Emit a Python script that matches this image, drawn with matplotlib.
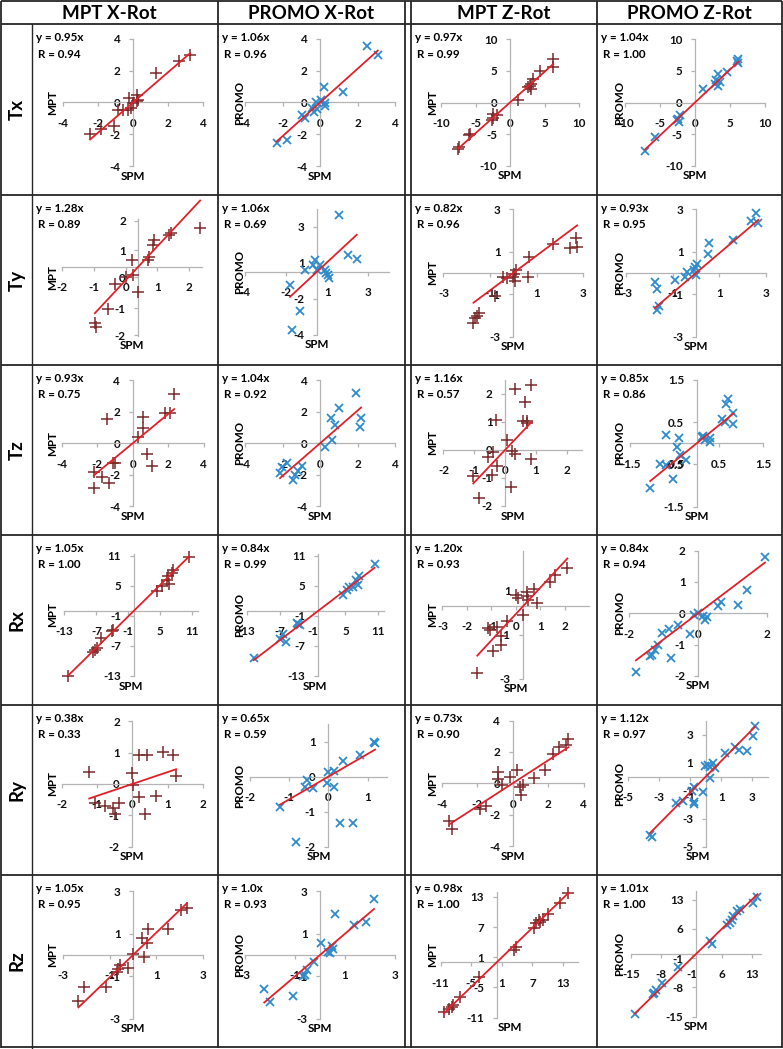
import math
import matplotlib
matplotlib.use("Agg")
import matplotlib.pyplot as plt

plt.rcParams['font.family'] = ['Lato', 'DejaVu Sans']
plt.rcParams['font.weight'] = 'bold'

W, H, DPI = 783, 1049, 100

COL_TITLES = ["MPT X-Rot", "PROMO X-Rot", "MPT Z-Rot", "PROMO Z-Rot"]
ROW_TITLES = ["Tx", "Ty", "Tz", "Rx", "Ry", "Rz"]
Y_TITLES = ["MPT", "PROMO", "MPT", "PROMO"]
X_TITLE = "SPM"

# ---------------- data (SPM on x, method on y) ----------------
TX_MPTX_X = [3.25, 2.65, 1.3, 0.25, 0.3, -0.25, 0.2, -0.1, -0.3, -0.6, -0.85, -1.1, -1.85, -2.45, 0.0]
TX_MPTX_Y = [3.0, 2.6, 1.85, 0.45, 0.15, 0.3, 0.1, -0.35, -0.5, -0.45, -0.45, -1.45, -1.65, -1.95, -0.05]
TX_PROX_X = [2.5, 3.08, 1.21, 0.21, 0.27, 0.27, 0.04, -0.2, -0.18, -0.32, -0.44, -0.8, -0.98, -1.74, -2.31]
TX_PROX_Y = [3.55, 2.98, 0.67, 0.95, -0.06, -0.23, 0.15, 0.04, -0.38, -0.59, -0.32, -1.0, -0.8, -2.37, -2.54]
TX_MPTZ_X = [6.27, 6.27, 4.34, 3.37, 2.99, 2.89, 2.99, 2.65, 1.2, -1.93, -2.41, -2.65, -2.4, -5.78, -5.9, -7.5, -7.35]
TX_MPTZ_Y = [6.8, 5.65, 4.96, 3.64, 3.0, 2.6, 2.2, 2.37, 0.47, -2.0, -2.37, -2.8, -1.74, -4.9, -5.17, -7.3, -7.0]
TX_PROZ_X = [6.19, 6.19, 5.95, 4.52, 3.33, 3.0, 3.57, 2.86, 3.33, 1.1, -2.14, -2.38, -2.24, -2.6, -5.7, -7.14]
TX_PROZ_Y = [6.8, 6.28, 6.54, 4.85, 4.49, 3.54, 3.27, 3.0, 2.6, 2.2, -2.0, -2.53, -3.06, -2.8, -5.4, -7.65]

TY_MPTX_X = [-1.37, -1.32, -0.97, -0.74, -0.39, -0.18, 0.0, -0.21, 0.32, 0.35, 0.45, 0.49, 0.98, 1.02, 1.95]
TY_MPTX_Y = [-2.14, -2.26, -1.61, -0.67, -0.4, -0.31, -0.94, 0.25, 0.25, 0.38, 0.82, 1.01, 1.19, 1.26, 1.45]
TY_PROX_X = [1.3, 2.32, 1.79, -0.12, -0.21, -0.7, 0.18, 0.47, 0.53, 0.66, 0.72, -0.02, -1.58, -0.99, -1.48]
TY_PROX_Y = [3.78, 0.82, 1.11, 0.78, 0.44, 0.11, 0.44, 0.11, -0.07, -0.22, -0.44, 0.11, -0.89, -2.6, -3.89]
TY_MPTZ_X = [2.69, 2.74, 2.43, 1.71, 0.69, 0.64, 0.11, 0.03, -0.03, 0.07, -0.29, -0.43, -0.79, -1.46, -1.54, -1.64, -1.71]
TY_MPTZ_Y = [1.67, 1.21, 1.17, 1.35, 0.77, -0.2, 0.14, -0.05, -0.2, -0.36, -0.25, -0.2, -1.09, -1.87, -2.03, -2.14, -2.38]
TY_PROZ_X = [2.59, 2.37, 2.69, 1.61, 0.58, 0.53, 0.06, -0.04, -0.09, 0.0, -0.4, -0.47, -0.9, -1.77, -1.7, -1.58, -1.7]
TY_PROZ_Y = [2.85, 2.43, 2.38, 1.56, 1.43, 0.9, 0.43, 0.27, 0.14, -0.09, 0.06, -0.2, -0.33, -0.41, -0.77, -1.56, -1.75]

TZ_MPTX_X = [2.34, 2.1, 1.83, 0.6, 0.6, 0.28, -1.47, 0.83, 1.08, -1.0, -1.09, -2.19, -1.75, -1.32, -2.17]
TZ_MPTX_Y = [3.15, 1.91, 1.91, 1.7, 0.96, 0.43, 1.53, -0.68, -1.45, -1.23, -1.23, -1.8, -2.17, -2.51, -2.87]
TZ_PROX_X = [1.92, 1.03, 0.59, 0.8, 2.13, 2.19, 0.62, 0.27, -0.98, -1.16, -1.33, -1.42, -1.78, -2.04, -2.13]
TZ_PROX_Y = [3.19, 2.23, 1.6, 1.17, 1.02, 1.6, 0.21, -0.21, -1.45, -1.74, -2.02, -2.34, -1.28, -1.49, -1.91]
TZ_MPTZ_X = [0.32, 0.83, 0.65, -0.29, 0.59, 0.7, 0.72, 0.08, 0.22, 0.32, -0.4, -0.54, 0.86, -0.25, -0.43, -1.03, 0.18, -0.83]
TZ_MPTZ_Y = [2.17, 2.32, 1.73, 1.07, 1.05, 1.05, 0.95, 0.36, -0.02, -0.15, -0.06, -0.24, -0.32, -0.57, -0.89, -0.93, -1.31, -1.7]
TZ_PROZ_X = [0.7, 0.66, 0.81, 0.83, 0.56, 0.64, 0.29, 0.15, 0.19, 0.3, 0.11, -0.39, -0.69, -0.45, -0.38, -0.24, -0.83, -0.69, -0.53, -1.05]
TZ_PROZ_Y = [1.04, 0.94, 0.72, 0.46, 0.57, 0.51, 0.12, 0.17, 0.08, 0.04, 0.16, 0.12, 0.2, -0.09, -0.28, -0.39, -0.5, -0.51, -0.85, -1.06]

RX_MPTX_X = [10.4, 7.3, 7.1, 6.5, 6.2, 6.7, 5.25, 4.3, -3.9, -4.1, -6.2, -6.9, -7.25, -7.6, -12.25]
RX_MPTX_Y = [10.9, 8.3, 7.7, 7.0, 6.3, 5.5, 5.0, 4.1, -3.8, -4.0, -5.3, -7.3, -7.7, -8.1, -12.9]
RX_PROX_X = [10.3, 7.5, 6.9, 7.3, 6.4, 5.7, 5.2, 4.5, -3.6, -3.3, -3.9, -6.4, -6.9, -5.8, -11.7]
RX_PROX_Y = [9.5, 7.0, 6.2, 5.2, 4.9, 4.9, 4.3, 3.2, -2.5, -2.8, -2.3, -4.6, -5.5, -6.1, -9.3]
RX_MPTZ_X = [1.8, 1.29, 1.09, 0.44, 0.14, 0.16, -0.3, -0.2, 0.2, 0.54, 0.0, -0.68, -1.09, -1.43, -1.36, -0.89, -0.89, -1.25, -1.88]
RX_MPTZ_Y = [1.71, 1.41, 1.11, 0.76, 0.65, 0.45, 0.5, 0.35, 0.27, 0.12, -0.41, -0.67, -0.94, -1.02, -1.09, -1.36, -1.77, -2.03, -3.06]
RX_PROZ_X = [1.93, 1.4, 1.16, 0.66, 0.59, 0.25, 0.2, 0.13, 0.0, -0.12, -0.23, -0.57, -0.83, -1.05, -0.79, -1.14, -1.24, -1.34, -1.38, -1.79]
RX_PROZ_Y = [1.79, 0.74, 0.27, 0.37, 0.23, -0.13, -0.21, -0.09, 0.0, -0.05, -0.66, -0.37, -0.51, -0.64, -1.44, -1.01, -1.17, -1.33, -1.38, -1.89]

RY_MPTX_X = [-1.22, 0.0, 0.03, 0.2, 0.41, 0.86, 1.16, 1.24, 0.2, 0.67, 0.36, -1.06, -0.77, -0.54, -0.37, -0.49]
RY_MPTX_Y = [0.39, 0.34, -0.03, 0.93, 0.93, 1.03, 0.93, 0.26, -0.43, -0.38, -0.96, -0.6, -0.7, -0.78, -0.62, -0.96]
RY_PROX_X = [1.16, 1.19, 0.81, 0.38, 0.15, 0.0, -0.55, -0.59, -0.4, -0.03, 0.15, -1.23, 0.3, 0.64, -0.82]
RY_PROX_Y = [1.0, 0.97, 0.62, 0.46, 0.17, 0.14, -0.08, -0.3, -0.33, -0.19, -0.3, -0.86, -1.33, -1.31, -1.86]
RY_MPTZ_X = [3.15, 3.0, 2.64, 2.26, 1.83, 1.2, 0.26, -0.15, -0.81, -0.81, -0.62, 0.42, 0.6, 0.45, -1.51, -1.85, -3.58, -3.45]
RY_MPTZ_Y = [2.81, 2.45, 2.3, 1.87, 0.85, 0.32, 0.85, 0.43, 0.74, 0.26, -0.1, -0.21, -0.1, -0.74, -1.45, -1.66, -2.38, -2.94]
RY_PROZ_X = [3.18, 3.08, 1.9, 2.17, 2.65, 1.25, 0.45, 0.17, 0.28, -0.04, 0.6, 0.28, -0.15, -0.75, -0.9, -0.75, -0.75, -1.48, -1.91, -3.48, -3.59]
RY_PROZ_Y = [3.62, 2.9, 2.14, 1.9, 1.86, 1.67, 1.0, 0.83, 0.71, 0.76, 0.6, -0.12, -1.07, -0.76, -1.0, -1.79, -1.95, -1.71, -1.86, -4.33, -4.17]

RZ_MPTX_X = [2.3, 2.07, 1.51, 0.66, 0.59, 0.37, 0.47, 0.01, -0.2, -0.56, -0.63, -0.7, -2.1, -1.16, -2.34]
RZ_MPTX_Y = [2.19, 2.11, 1.2, 1.2, 0.55, 0.78, -0.11, 0.05, -0.63, -0.47, -0.67, -0.78, -1.48, -1.48, -2.14]
RZ_PROX_X = [2.16, 1.84, 1.37, 0.6, 0.03, 0.47, 0.33, 0.4, 0.53, -0.24, -0.51, -0.6, -0.67, -1.09, -2.23, -2.0]
RZ_PROX_Y = [2.61, 1.53, 1.41, 1.91, 0.58, 0.42, 0.16, 0.08, 0.27, -0.31, -0.7, -0.94, -0.98, -1.92, -1.61, -2.23]
RZ_MPTZ_X = [14.0, 12.5, 10.1, 9.0, 8.5, 8.2, 7.7, 7.3, 3.8, 3.3, -3.4, -7.2, -8.5, -8.8, -9.3, -10.3]
RZ_MPTZ_Y = [13.7, 11.8, 9.6, 8.4, 8.1, 8.4, 7.9, 6.8, 3.0, 2.5, -3.0, -6.8, -8.5, -8.8, -9.3, -9.9]
RZ_PROZ_X = [14.2, 13.1, 10.2, 9.4, 8.6, 8.2, 7.8, 7.2, 3.2, 3.8, -4.2, -7.9, -9.2, -9.7, -10.0, -14.1]
RZ_PROZ_Y = [13.6, 12.2, 10.7, 10.2, 9.1, 8.2, 7.4, 7.0, 3.0, 2.4, -3.0, -7.0, -8.6, -9.4, -9.6, -14.4]

# regression slopes (labels) and correlation coefficients
SLOPE_TX = ["0.95", "1.06", "0.97", "1.04"]; R_TX = ["0.94", "0.96", "0.99", "1.00"]
SLOPE_TY = ["1.28", "1.06", "0.82", "0.93"]; R_TY = ["0.89", "0.69", "0.96", "0.95"]
SLOPE_TZ = ["0.93", "1.04", "1.16", "0.85"]; R_TZ = ["0.75", "0.92", "0.57", "0.86"]
SLOPE_RX = ["1.05", "0.84", "1.20", "0.84"]; R_RX = ["1.00", "0.99", "0.93", "0.94"]
SLOPE_RY = ["0.38", "0.65", "0.73", "1.12"]; R_RY = ["0.33", "0.59", "0.90", "0.97"]
SLOPE_RZ = ["1.05", "1.0", "0.98", "1.01"]; R_RZ = ["0.95", "0.93", "1.00", "1.00"]

# axis ranges and tick positions per panel
T4 = [-4, -2, 0, 2, 4]
T10 = [-10, -5, 0, 5, 10]
T3 = [-3, -1, 1, 3]
TY_X_TICKS = [-2.4, -1.4, -0.4, 0.6, 1.6]
TY_Y_TICKS = [-2.58, -1.57, -0.4, 0.63, 1.74]
TY_Y_LABELS = ["-2", "-1", "0", "1", "2"]
TY_P_TICKS = [-4.2, -1.8, 0.6, 3.0]
TZ_Z_TICKS = [-2, -1, 0, 1, 2]
TZ_P_TICKS = [-1.5, -0.5, 0.5, 1.5]
RX_TICKS = [-13, -7, -1, 5, 11]
RXZ_XTICKS = [-3.3, -2.3, -1.3, -0.3, 0.7, 1.7]
RXZ_YTICKS = [-3.3, -1.3, 0.7]
R2_TICKS = [-2, -1, 0, 1, 2]
RY_P_TICKS = [-2, -1, 0, 1]
RY_Z_TICKS = [-5, -3, -1, 1, 3]
RZ_Z_TICKS = [-11, -5, 1, 7, 13]
RZ_P_TICKS = [-15, -8, -1, 6, 13]

DATA = [
    [(TX_MPTX_X, TX_MPTX_Y), (TX_PROX_X, TX_PROX_Y), (TX_MPTZ_X, TX_MPTZ_Y), (TX_PROZ_X, TX_PROZ_Y)],
    [(TY_MPTX_X, TY_MPTX_Y), (TY_PROX_X, TY_PROX_Y), (TY_MPTZ_X, TY_MPTZ_Y), (TY_PROZ_X, TY_PROZ_Y)],
    [(TZ_MPTX_X, TZ_MPTX_Y), (TZ_PROX_X, TZ_PROX_Y), (TZ_MPTZ_X, TZ_MPTZ_Y), (TZ_PROZ_X, TZ_PROZ_Y)],
    [(RX_MPTX_X, RX_MPTX_Y), (RX_PROX_X, RX_PROX_Y), (RX_MPTZ_X, RX_MPTZ_Y), (RX_PROZ_X, RX_PROZ_Y)],
    [(RY_MPTX_X, RY_MPTX_Y), (RY_PROX_X, RY_PROX_Y), (RY_MPTZ_X, RY_MPTZ_Y), (RY_PROZ_X, RY_PROZ_Y)],
    [(RZ_MPTX_X, RZ_MPTX_Y), (RZ_PROX_X, RZ_PROX_Y), (RZ_MPTZ_X, RZ_MPTZ_Y), (RZ_PROZ_X, RZ_PROZ_Y)],
]
SLOPES = [SLOPE_TX, SLOPE_TY, SLOPE_TZ, SLOPE_RX, SLOPE_RY, SLOPE_RZ]
RVALS = [R_TX, R_TY, R_TZ, R_RX, R_RY, R_RZ]

# (xlim, ylim, xticks, yticks, decimals, explicit y labels or None)
AXES = [
    [((-4, 4), (-4, 4), T4, T4, 0, None), ((-4, 4), (-4, 4), T4, T4, 0, None),
     ((-10, 10), (-10, 10), T10, T10, 0, None), ((-10, 10), (-10, 10), T10, T10, 0, None)],
    [((-2.4, 2.0), (-2.6, 1.79), TY_X_TICKS, TY_Y_TICKS, 0, TY_Y_LABELS),
     ((-4.2, 4.2), (-4.2, 4.2), TY_P_TICKS, TY_P_TICKS, 0, None),
     ((-3, 3), (-3, 3), T3, T3, 0, None), ((-3, 3), (-3, 3), T3, T3, 0, None)],
    [((-4, 4), (-4, 4), T4, T4, 0, None), ((-4, 4), (-4, 4), T4, T4, 0, None),
     ((-2, 2.5), (-2, 2.5), TZ_Z_TICKS, TZ_Z_TICKS, 0, None),
     ((-1.5, 1.5), (-1.5, 1.5), TZ_P_TICKS, TZ_P_TICKS, 1, None)],
    [((-13, 12), (-13, 11.5), RX_TICKS, RX_TICKS, 0, None), ((-13, 12), (-13, 11.5), RX_TICKS, RX_TICKS, 0, None),
     ((-3.3, 2.7), (-3.3, 2.5), RXZ_XTICKS, RXZ_YTICKS, 0, None),
     ((-2, 2), (-2, 2), [-2, 0, 2], R2_TICKS, 0, None)],
    [((-2, 2), (-2, 2), R2_TICKS, R2_TICKS, 0, None), ((-2, 1.5), (-2, 1.5), RY_P_TICKS, RY_P_TICKS, 0, None),
     ((-4, 4), (-4, 4), T4, T4, 0, None), ((-5, 4), (-5, 4), RY_Z_TICKS, RY_Z_TICKS, 0, None)],
    [((-3, 3), (-3, 3), T3, T3, 0, None), ((-3, 3), (-3, 3), T3, T3, 0, None),
     ((-11, 16), (-11, 14), RZ_Z_TICKS, RZ_Z_TICKS, 0, None),
     ((-15, 15), (-15, 15), RZ_P_TICKS, RZ_P_TICKS, 0, None)],
]

# ---------------- layout (pixels): origin x, origin y, px per unit x, px per unit y -------------
LAYOUT = [
    [(133, 102.5, 17.5, 15.9), (320, 102.5, 18.75, 15.9), (510, 102.5, 6.9, 6.33), (695, 102.5, 7.0, 6.33)],
    [(138.3, 266.7, 31.7, 26.5), (317, 271.7, 17.1, 15.0), (513.3, 273, 23.3, 21.2), (696, 273, 23.2, 21.2)],
    [(132.7, 443.3, 17.7, 15.7), (320, 443.3, 18.75, 15.7), (505, 450, 30.8, 28.0), (696.7, 443.3, 44.3, 42.3)],
    [(133.7, 611, 5.33, 5.0), (318, 611, 5.49, 5.0), (523.3, 606, 24.5, 22.0), (698, 613.3, 34.7, 31.3)],
    [(132.3, 784, 35.3, 31.3), (328.3, 776.7, 39.3, 35.0), (512.7, 783.3, 17.7, 15.7), (705.7, 776.7, 15.5, 14.0)],
    [(133, 955, 23.3, 21.3), (320, 955, 25.0, 21.3), (496.7, 962.3, 5.1, 5.03), (696, 954, 4.33, 4.17)],
]
COL_EDGES = [(32, 218), (218, 405), (411, 597), (597, 782)]
ROW_EDGES = [24, 195, 365, 535, 705, 875, 1047]
YTITLE_X = [53, 240, 433, 620]

LINE_C = "#262626"
AXIS_C = "#b4b4b4"
MPT_C = "#7a2a2a"
PRO_C = "#2f8bcc"
FIT_C = "#e3202a"
FS_SMALL = 8.4


def tick_label(v, dec):
    if dec == 0:
        r = math.floor(abs(v) + 0.5)
        r = -r if (v < 0 and r != 0) else r
        return str(int(r))
    return f"{v:.{dec}f}"


fig = plt.figure(figsize=(W / DPI, H / DPI), dpi=DPI)
bg = fig.add_axes([0, 0, 1, 1])
bg.set_xlim(0, W)
bg.set_ylim(H, 0)
bg.axis("off")

# table grid
lw = 1.3
for x in [1, 218, 405, 411, 597, 781.5]:
    bg.plot([x, x], [1, 1047.5], color=LINE_C, lw=lw, solid_capstyle="butt")
bg.plot([32, 32], [ROW_EDGES[0], 1047.5], color=LINE_C, lw=1.0)
for y in [1] + ROW_EDGES:
    bg.plot([1, 781.5], [y, y], color=LINE_C, lw=lw, solid_capstyle="butt")

# headers
bg.text((1 + 218) / 2, 13.5, COL_TITLES[0], ha="center", va="center", fontsize=13.5, fontweight="bold")
for c in range(1, 4):
    l, r = COL_EDGES[c]
    bg.text((l + r) / 2, 13.5, COL_TITLES[c], ha="center", va="center", fontsize=13.5, fontweight="bold")
for i, name in enumerate(ROW_TITLES):
    bg.text(17, (ROW_EDGES[i] + ROW_EDGES[i + 1]) / 2, name, ha="center", va="center",
            rotation=90, fontsize=13.5, fontweight="bold")

for r in range(6):
    top = ROW_EDGES[r]
    for c in range(4):
        ox, oy, sx, sy = LAYOUT[r][c]
        (x0, x1), (y0, y1), xt, yt, dec, ylabs = AXES[r][c]
        L = ox + x0 * sx
        Rr = ox + x1 * sx
        T = oy - y1 * sy
        B = oy - y0 * sy
        ax = fig.add_axes([L / W, 1 - B / H, (Rr - L) / W, (B - T) / H])
        ax.set_xlim(x0, x1)
        ax.set_ylim(y0, y1)
        ax.patch.set_alpha(0)
        for s in ("top", "right"):
            ax.spines[s].set_visible(False)
        for s in ("left", "bottom"):
            ax.spines[s].set_position(("data", 0))
            ax.spines[s].set_color(AXIS_C)
            ax.spines[s].set_linewidth(0.9)
        ax.set_xticks(xt)
        ax.set_xticklabels([tick_label(v, dec) for v in xt])
        ax.set_yticks(yt)
        ax.set_yticklabels(ylabs if ylabs else [tick_label(v, dec) for v in yt])
        ax.tick_params(axis="both", direction="out", length=3, width=0.9, color=AXIS_C,
                       labelsize=FS_SMALL, labelcolor="#111111")
        ax.tick_params(axis="x", pad=8)
        ax.tick_params(axis="y", pad=6)
        for lab in ax.get_xticklabels() + ax.get_yticklabels():
            lab.set_fontweight("bold")

        xs, ys = DATA[r][c]
        if c % 2 == 0:
            ax.plot(xs, ys, ls="none", marker="+", ms=8, mew=1.1, color=MPT_C, clip_on=False, zorder=3)
        else:
            ax.plot(xs, ys, ls="none", marker="x", ms=6.3, mew=1.3, color=PRO_C, clip_on=False, zorder=3)
        k = float(SLOPES[r][c])
        lx = [min(xs), max(xs)]
        ax.plot(lx, [k * v for v in lx], color=FIT_C, lw=1.3, zorder=4, clip_on=False)

        cl = COL_EDGES[c][0]
        bg.text(cl + 4, top + 13.5, f"y = {SLOPES[r][c]}x", ha="left", va="center",
                fontsize=FS_SMALL, fontweight="bold", zorder=5)
        bg.text(cl + 6, top + 30, f"R = {RVALS[r][c]}", ha="left", va="center",
                fontsize=FS_SMALL, fontweight="bold", zorder=5)
        bg.text(YTITLE_X[c], (T + B) / 2, Y_TITLES[c], rotation=90, ha="center", va="center",
                fontsize=FS_SMALL, fontweight="bold")
        bg.text((L + Rr) / 2, B + 10, X_TITLE, ha="center", va="center",
                fontsize=FS_SMALL, fontweight="bold")

fig.savefig("out.png", dpi=DPI)
